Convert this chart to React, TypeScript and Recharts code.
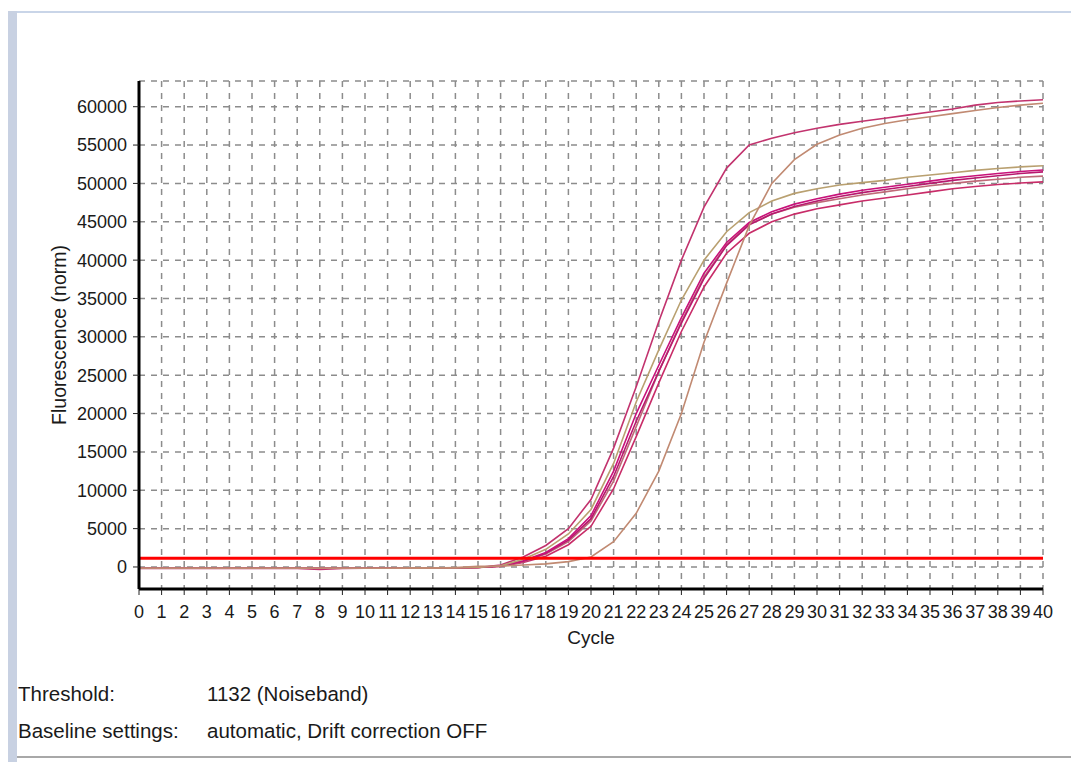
import React from 'react';
import { LineChart, Line, XAxis, YAxis, CartesianGrid, ReferenceLine } from 'recharts';

const cycles = [0,1,2,3,4,5,6,7,8,9,10,11,12,13,14,15,16,17,18,19,20,21,22,23,24,25,26,27,28,29,30,31,32,33,34,35,36,37,38,39,40];

const sampleA = [-180,-180,-180,-180,-180,-180,-190,-200,-320,-190,-170,-160,-150,-140,-120,-60,250,1300,2800,5000,8800,15500,23500,32000,40000,46900,52000,55000,55900,56600,57200,57700,58100,58500,58900,59300,59700,60200,60550,60750,60900];
const sampleM1 = [-170,-170,-170,-170,-170,-170,-170,-170,-170,-170,-170,-160,-150,-140,-120,-60,150,800,1900,3700,6700,12500,20000,26300,32500,38300,42300,44900,46300,47300,48000,48600,49100,49500,49900,50300,50700,51000,51300,51550,51750];
const sampleM4 = [-170,-170,-170,-170,-170,-170,-170,-170,-170,-170,-170,-160,-150,-140,-120,-60,120,750,1800,3500,6300,11800,19000,25500,31800,37600,41900,44600,46000,47000,47700,48300,48800,49200,49600,50000,50400,50700,51000,51300,51500];
const sampleM2 = [-170,-170,-170,-170,-170,-170,-170,-170,-170,-170,-170,-160,-150,-140,-120,-60,100,700,1700,3300,6000,11200,18300,25500,32000,37800,42000,44700,46000,46900,47500,48000,48500,48900,49300,49700,50000,50300,50550,50800,50950];
const sampleM3 = [-170,-170,-170,-170,-170,-170,-170,-170,-170,-170,-170,-160,-150,-140,-120,-60,80,600,1400,2900,5300,10200,17000,24000,30700,36500,40900,43500,45000,46000,46700,47200,47700,48100,48500,48900,49300,49600,49850,50050,50200];
const sampleT = [-170,-170,-170,-170,-170,-170,-170,-170,-170,-170,-170,-160,-150,-140,-120,-60,150,1000,2300,4300,7500,13500,21500,28300,34800,40000,43700,46200,47700,48700,49300,49800,50100,50400,50800,51100,51400,51700,51950,52150,52300];
const sampleB = [-170,-170,-170,-170,-170,-170,-170,-170,-170,-170,-170,-160,-150,-140,-60,80,120,250,400,700,1300,3300,7000,12500,20000,29300,37000,44500,50000,53100,55100,56300,57200,57800,58300,58700,59100,59500,59900,60200,60450];

const yTicks = [0,5000,10000,15000,20000,25000,30000,35000,40000,45000,50000,55000,60000];
const yMinorTicks = Array.from({ length: 66 }, (_, i) => (i - 2) * 1000);
const xMinorTicks = Array.from({ length: 201 }, (_, i) => Math.round(i * 2) / 10);
const threshold = 1132;

const series = [
  { key: 'A', color: '#c2336e' },
  { key: 'M3', color: '#c82c68' },
  { key: 'M2', color: '#bf6a78' },
  { key: 'M4', color: '#b8186e' },
  { key: 'M1', color: '#c8127a' },
  { key: 'T', color: '#b9a070' },
  { key: 'B', color: '#c18a72' },
];

const data = cycles.map((c, i) => ({
  cycle: c,
  A: sampleA[i],
  M1: sampleM1[i],
  M2: sampleM2[i],
  M3: sampleM3[i],
  M4: sampleM4[i],
  T: sampleT[i],
  B: sampleB[i],
}));

const font = '"Liberation Sans", Arial, sans-serif';
const txt = '#1a1a1a';

export default function App() {
  return (
    <div style={{ position: 'fixed', left: 0, top: 0, width: 1071, height: 762, background: '#fff', overflow: 'hidden', fontFamily: font }}>
      <div style={{ position: 'absolute', left: 8, top: 11, width: 1063, height: 2, background: '#c9d5e8' }} />
      <div style={{ position: 'absolute', left: 8, top: 11, width: 9, height: 751, background: '#c8d1e2' }} />
      <div style={{ position: 'absolute', left: 17, top: 756, width: 1054, height: 2, background: '#a8a8a8' }} />
      <div style={{ position: 'absolute', left: 0, top: 0 }}>
        <LineChart width={1071} height={762} data={data} margin={{ top: 81, right: 28, left: 0, bottom: 113 }}>
          <CartesianGrid stroke="#8c8c8c" strokeWidth={1.5} strokeDasharray="6 6" />
          <XAxis xAxisId="minor" dataKey="cycle" type="number" domain={[0, 40]} ticks={xMinorTicks} interval={0} height={0}
            tick={false} axisLine={false} tickLine={{ stroke: '#222', strokeWidth: 1 }} tickSize={4} />
          <XAxis dataKey="cycle" type="number" domain={[0, 40]} ticks={cycles} interval={0} height={60}
            axisLine={{ stroke: '#000', strokeWidth: 3 }} tickLine={{ stroke: '#222', strokeWidth: 1 }} tickSize={6} tickMargin={10}
            tick={{ fill: txt, fontSize: 18, fontFamily: font }}
            label={{ value: 'Cycle', position: 'insideBottom', offset: 5, fill: txt, fontSize: 19, fontFamily: font }} />
          <XAxis xAxisId="top" orientation="top" dataKey="cycle" type="number" domain={[0, 40]} height={0}
            tick={false} tickLine={false} axisLine={{ stroke: '#333', strokeWidth: 2 }} />
          <YAxis yAxisId="minor" type="number" domain={[-2870, 63350]} ticks={yMinorTicks} interval={0} width={0} allowDataOverflow
            tick={false} axisLine={false} tickLine={{ stroke: '#222', strokeWidth: 1 }} tickSize={3} />
          <YAxis type="number" domain={[-2870, 63350]} ticks={yTicks} interval={0} width={139} allowDataOverflow
            axisLine={{ stroke: '#000', strokeWidth: 3 }} tickLine={{ stroke: '#222', strokeWidth: 1 }} tickSize={6} tickMargin={6}
            tick={{ fill: txt, fontSize: 18, fontFamily: font }}
            label={{ value: 'Fluorescence (norm)', angle: -90, position: 'insideLeft', offset: 59, fill: txt, fontSize: 19.5, fontFamily: font, style: { textAnchor: 'middle' } }} />
          <YAxis yAxisId="right" orientation="right" type="number" domain={[-2870, 63350]} width={0}
            tick={false} tickLine={false} axisLine={{ stroke: '#333', strokeWidth: 2 }} />
          {series.map((s) => (
            <Line key={s.key} dataKey={s.key} stroke={s.color} strokeWidth={1.6} dot={false} isAnimationActive={false} type="linear" />
          ))}
          <ReferenceLine y={threshold} stroke="#ff0000" strokeWidth={3} />
        </LineChart>
      </div>
      <div style={{ position: 'absolute', left: 18, top: 682, fontSize: 20.5, color: txt, whiteSpace: 'pre' }}>Threshold:</div>
      <div style={{ position: 'absolute', left: 207, top: 682, fontSize: 20.5, color: txt, whiteSpace: 'pre' }}>1132 (Noiseband)</div>
      <div style={{ position: 'absolute', left: 18, top: 719, fontSize: 20.5, color: txt, whiteSpace: 'pre' }}>Baseline settings:</div>
      <div style={{ position: 'absolute', left: 207, top: 719, fontSize: 20.5, color: txt, whiteSpace: 'pre' }}>automatic, Drift correction OFF</div>
    </div>
  );
}
